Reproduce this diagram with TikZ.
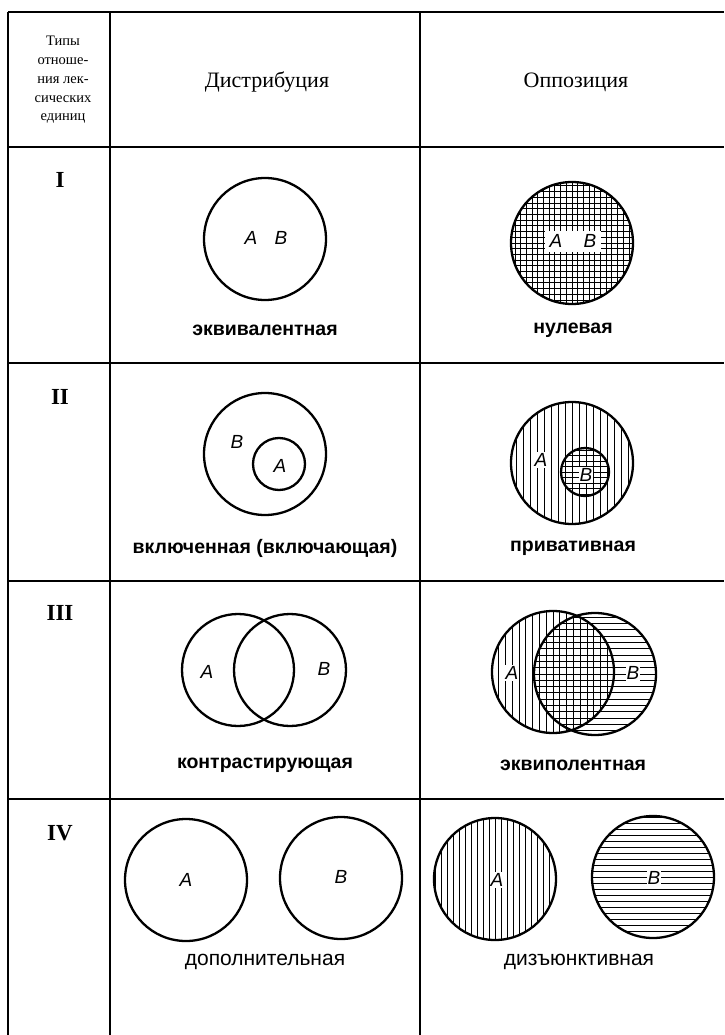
\documentclass[tikz,border=0pt]{standalone}
\usepackage{fontspec}
\setmainfont{Liberation Serif}
\newfontfamily\labfont{Liberation Sans}
\begin{document}
\begin{tikzpicture}[x=1pt,y=-1pt,
  rule/.style={line width=1.6pt},
  ring/.style={line width=2.3pt},
  hatch/.style={line width=1pt},
  head/.style={font=\fontsize{22}{24}\selectfont},
  typetext/.style={align=center,font=\fontsize{14.5}{18.7}\selectfont},
  roman/.style={font=\fontsize{23}{25}\selectfont\bfseries},
  lab/.style={font=\labfont\fontsize{19.5}{22}\selectfont\bfseries},
  labiv/.style={font=\labfont\fontsize{21}{24}\selectfont},
  letter/.style={font=\labfont\fontsize{19}{22}\selectfont\itshape,inner sep=1pt},
  wletter/.style={letter,fill=white}]
\useasboundingbox (0,0) rectangle (724,1035);
\fill[white] (0,0) rectangle (724,1035);
% hatch helpers
\newcommand{\vhatch}[4]{% cx cy r spacing
  \begin{scope}\clip (#1,#2) circle[radius=#3];
  \foreach \k in {-14,...,14} \draw[hatch] ({#1+\k*#4},{#2-#3}) -- ({#1+\k*#4},{#2+#3});
  \end{scope}}
\newcommand{\hhatch}[4]{%
  \begin{scope}\clip (#1,#2) circle[radius=#3];
  \foreach \k in {-14,...,14} \draw[hatch] ({#1-#3},{#2+\k*#4}) -- ({#1+#3},{#2+\k*#4});
  \end{scope}}
% table rules
\draw[rule] (8,12) -- (724,12);
\draw[rule] (8,147) -- (724,147);
\draw[rule] (8,363) -- (724,363);
\draw[rule] (8,581) -- (724,581);
\draw[rule] (8,799) -- (724,799);
\draw[rule,line width=2.2pt] (8,12) -- (8,1035);
\draw[rule] (110,12) -- (110,1035);
\draw[rule] (420,12) -- (420,1035);
% header
\node[typetext] (types) at (63,80) {Типы\\отноше-\\ния лек-\\сических\\единиц};
\node[head] (distr) at (267,82) {Дистрибуция};
\node[head] (oppos) at (576,82) {Оппозиция};
% roman numerals
\node[roman] (r1) at (60,180) {I};
\node[roman] (r2) at (60,397) {II};
\node[roman] (r3) at (60,613) {III};
\node[roman] (r4) at (60,833) {IV};
% ---------- Row I
\draw[ring] (265,239) circle[radius=61];
\node[letter] (a1) at (251,238) {A};
\node[letter] (b1) at (281,238) {B};
\node[lab] (l1) at (265,330) {эквивалентная};
\vhatch{572}{243}{61}{5.7}
\hhatch{572}{243}{61}{5.7}
\draw[ring] (572,243) circle[radius=61];
\fill[white] (545,231) rectangle (601,252);
\node[letter] (a1r) at (556,241) {A};
\node[letter] (b1r) at (590,241) {B};
\node[lab] (l1r) at (573,330) {нулевая};
% ---------- Row II
\draw[ring] (265,454) circle[radius=61];
\draw[ring] (279,464) circle[radius=26];
\node[letter] (b2) at (237,442) {B};
\node[letter] (a2) at (280,466) {A};
\node[lab] (l2) at (265,548) {включенная (включающая)};
\vhatch{572}{463}{61}{7}
\hhatch{585}{472}{24}{5.5}
\draw[ring] (572,463) circle[radius=61];
\draw[ring] (585,472) circle[radius=24];
\node[wletter] (a2r) at (541,460) {A};
\node[wletter] (b2r) at (586,475) {B};
\node[lab] (l2r) at (573,548) {привативная};
% ---------- Row III
\draw[ring] (238,670) circle[radius=56];
\draw[ring] (290,670) circle[radius=56];
\node[letter] (a3) at (207,672) {A};
\node[letter] (b3) at (324,669) {B};
\node[lab] (l3) at (265,765) {контрастирующая};
\vhatch{553}{672}{61}{6.8}
\hhatch{595}{674}{61}{6.3}
\draw[ring] (553,672) circle[radius=61];
\draw[ring] (595,674) circle[radius=61];
\node[wletter] (a3r) at (512,673) {A};
\node[wletter] (b3r) at (633,673) {B};
\node[lab] (l3r) at (573,765) {эквиполентная};
% ---------- Row IV
\draw[ring] (186,880) circle[radius=61];
\draw[ring] (341,878) circle[radius=61];
\node[letter] (a4) at (186,880) {A};
\node[letter] (b4) at (341,877) {B};
\node[labiv] (l4) at (265,962) {дополнительная};
\vhatch{495}{879}{61}{6}
\hhatch{653}{877}{61}{6}
\draw[ring] (495,879) circle[radius=61];
\draw[ring] (653,877) circle[radius=61];
\node[wletter] (a4r) at (497,880) {A};
\node[wletter] (b4r) at (654,878) {B};
\node[labiv] (l4r) at (579,962) {дизъюнктивная};
\end{tikzpicture}
\end{document}
